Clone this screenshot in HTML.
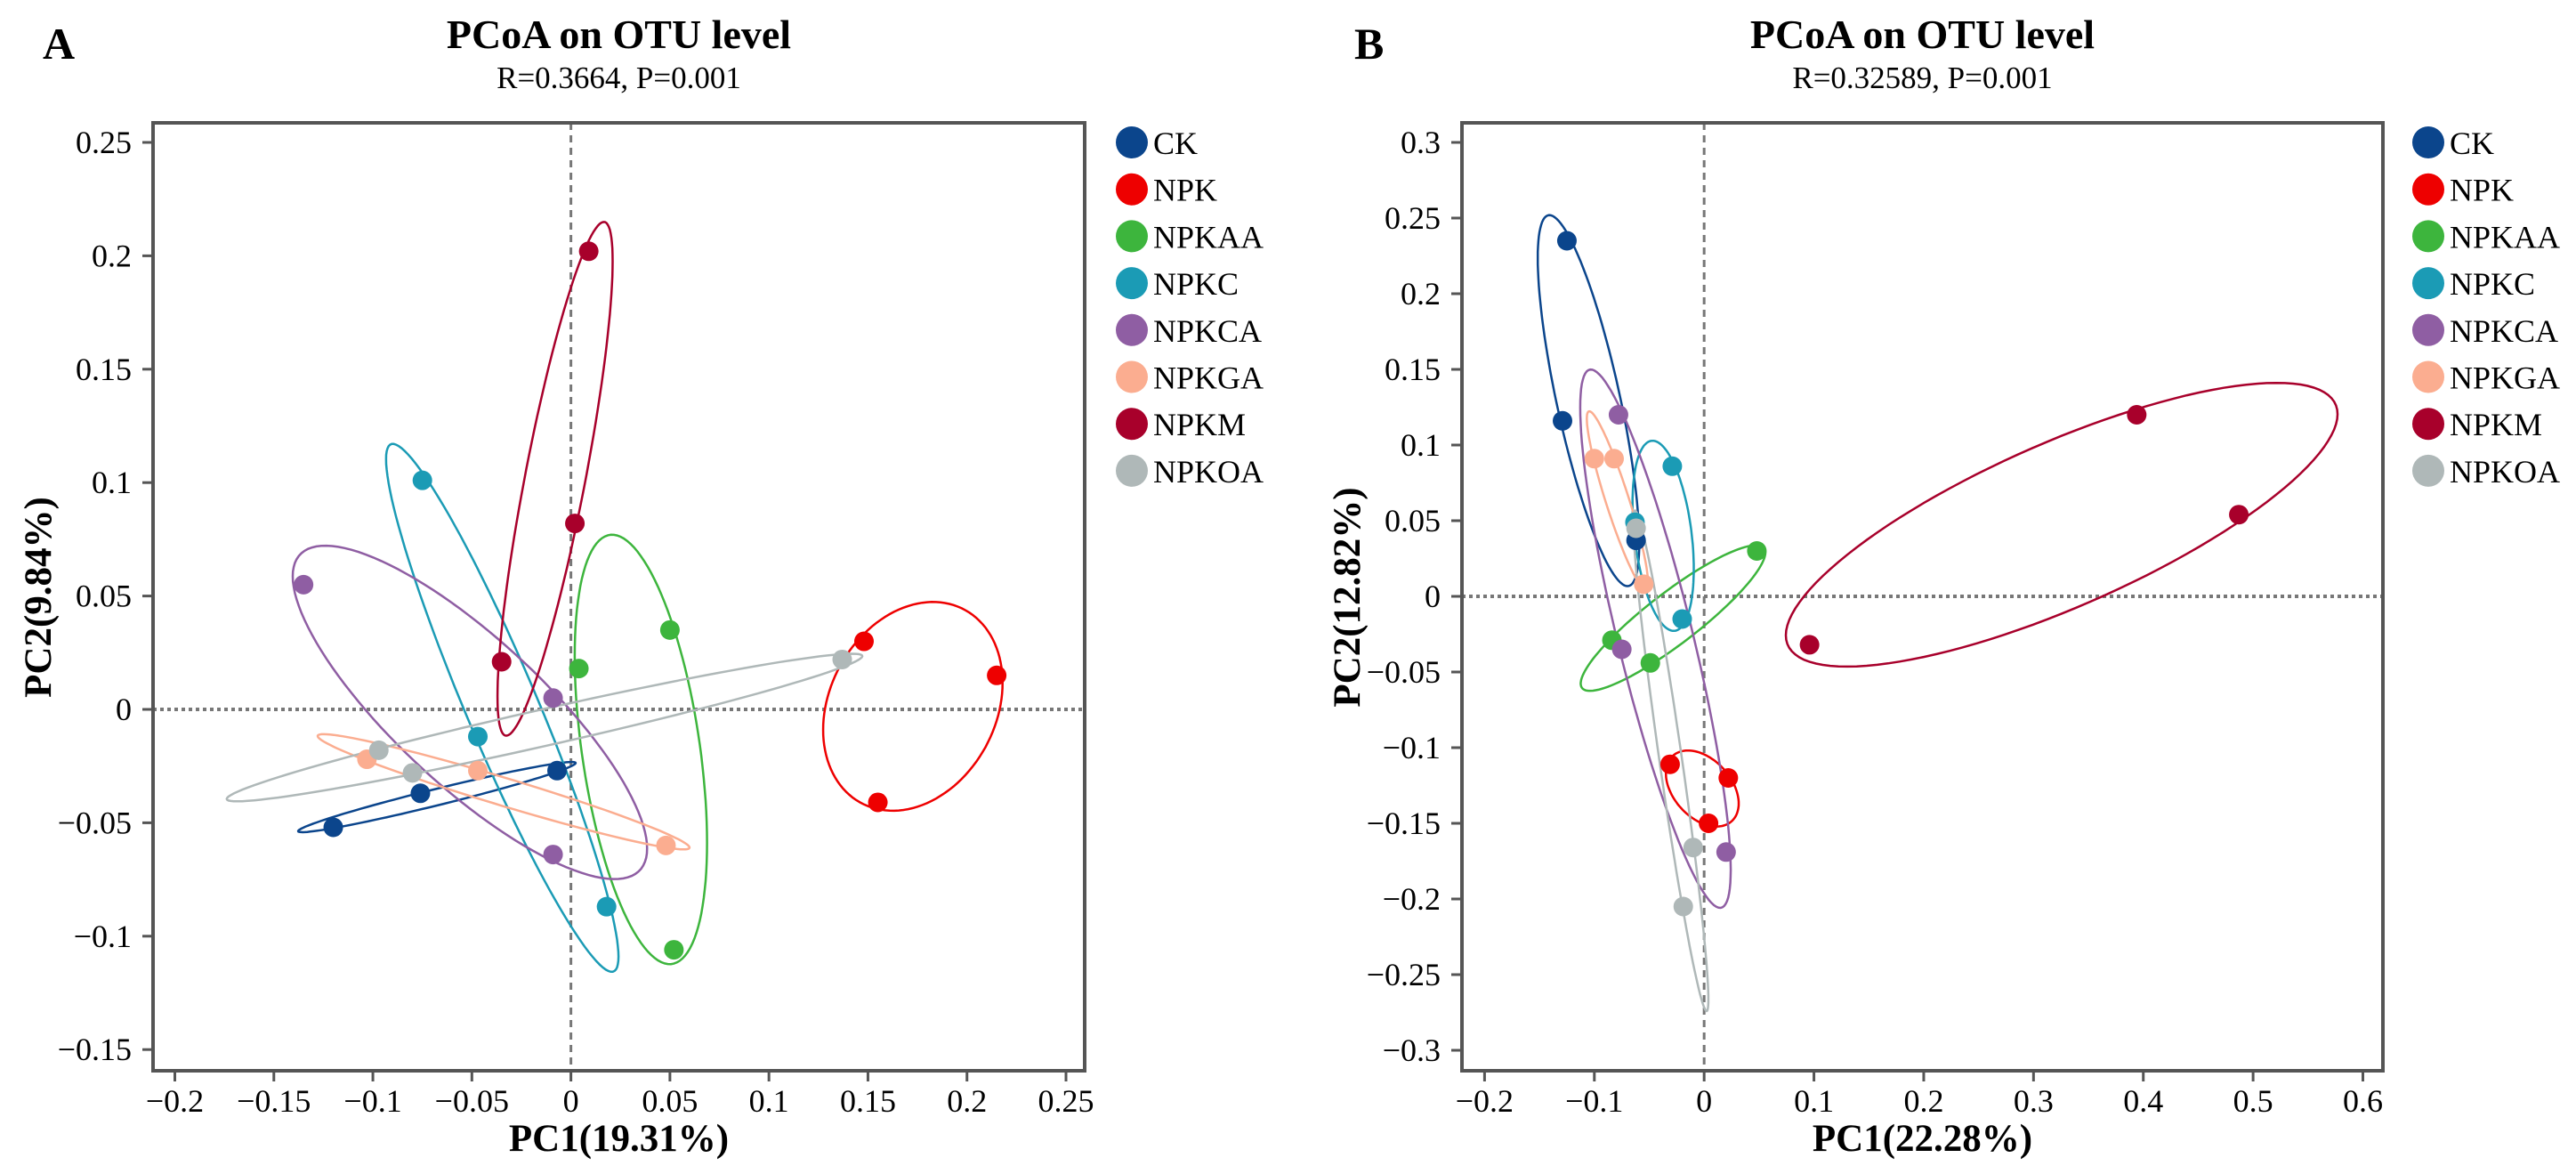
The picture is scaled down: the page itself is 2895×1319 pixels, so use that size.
<!DOCTYPE html>
<html><head><meta charset="utf-8">
<style>
html,body{margin:0;padding:0;background:#fff;}
svg{display:block;font-family:"Liberation Serif",serif;}
</style></head>
<body>
<svg id="fig" width="2895" height="1319" viewBox="0 0 2895 1319" xmlns="http://www.w3.org/2000/svg">
<rect width="2895" height="1319" fill="#fff"/>
</svg>
<script>
const groups = ["CK","NPK","NPKAA","NPKC","NPKCA","NPKGA","NPKM","NPKOA"];
const colors = ["#0b458c","#ee0000","#3db53d","#1b9bb5","#8f5ea3","#fbad90","#a8002b","#afb8b8"];
// Panel A values [x,y] per group
const aCK    = [[-0.120,-0.052],[-0.076,-0.037],[-0.007,-0.027]];
const aNPK   = [[0.148,0.030],[0.215,0.015],[0.155,-0.041]];
const aNPKAA = [[0.004,0.018],[0.050,0.035],[0.052,-0.106]];
const aNPKC  = [[-0.075,0.101],[-0.047,-0.012],[0.018,-0.087]];
const aNPKCA = [[-0.135,0.055],[-0.009,0.005],[-0.009,-0.064]];
const aNPKGA = [[-0.103,-0.022],[-0.047,-0.027],[0.048,-0.060]];
const aNPKM  = [[0.009,0.202],[0.002,0.082],[-0.035,0.021]];
const aNPKOA = [[-0.097,-0.018],[-0.080,-0.028],[0.137,0.022]];
const aXTicks = [-0.2,-0.15,-0.1,-0.05,0,0.05,0.1,0.15,0.2,0.25];
const aYTicks = [-0.15,-0.1,-0.05,0,0.05,0.1,0.15,0.2,0.25];
// Panel B values
const bCK    = [[-0.125,0.235],[-0.129,0.116],[-0.062,0.037]];
const bNPK   = [[-0.031,-0.111],[0.022,-0.120],[0.004,-0.150]];
const bNPKAA = [[0.048,0.030],[-0.084,-0.029],[-0.049,-0.044]];
const bNPKC  = [[-0.029,0.086],[-0.063,0.049],[-0.020,-0.015]];
const bNPKCA = [[-0.078,0.120],[-0.075,-0.035],[0.020,-0.169]];
const bNPKGA = [[-0.100,0.091],[-0.082,0.091],[-0.055,0.008]];
const bNPKM  = [[0.394,0.120],[0.487,0.054],[0.096,-0.032]];
const bNPKOA = [[-0.062,0.045],[-0.010,-0.166],[-0.019,-0.205]];
const bXTicks = [-0.2,-0.1,0,0.1,0.2,0.3,0.4,0.5,0.6];
const bYTicks = [-0.3,-0.25,-0.2,-0.15,-0.1,-0.05,0,0.05,0.1,0.15,0.2,0.25,0.3];

const NS="http://www.w3.org/2000/svg";
const svg=document.getElementById('fig');
function mk(tag,attrs,parent){const e=document.createElementNS(NS,tag);for(const k in attrs)e.setAttribute(k,attrs[k]);(parent||svg).appendChild(e);return e;}
function fmt(v){return (Math.round(v*1000)/1000).toString().replace('-','\u2212');}

function panel(p){
  const g=mk('g',{});
  
  
  const sx=v=>p.x0px+(v-p.x0)*(p.x1px-p.x0px)/(p.x1-p.x0);
  const sy=v=>p.y0px+(v-p.y0)*(p.y1px-p.y0px)/(p.y1-p.y0);
  const L=p.left,R=p.right,T=138,B=1203;
  let t=mk('text',{x:p.letterX,y:66,'font-size':50,'font-weight':'bold'},g);t.textContent=p.id;
  
  const cx=(L+R)/2;
  t=mk('text',{x:cx,y:54,'font-size':46,'font-weight':'bold','text-anchor':'middle'},g);t.textContent='PCoA on OTU level';
  
  t=mk('text',{x:cx,y:99,'font-size':35,'text-anchor':'middle'},g);t.textContent=p.sub;
  
  // zero lines
  let ln=mk('line',{x1:L,x2:R,y1:sy(0),y2:sy(0),stroke:'#777','stroke-width':4,'stroke-dasharray':'4 4'},g);
  
  ln=mk('line',{x1:sx(0),x2:sx(0),y1:T,y2:B,stroke:'#777','stroke-width':3,'stroke-dasharray':'8 6'},g);
  
  // ellipses
  p.data.forEach((pts,i)=>{
    const n=pts.length;const mx=pts.reduce((s,q)=>s+q[0],0)/n,my=pts.reduce((s,q)=>s+q[1],0)/n;
    let a=0,b=0,c=0;pts.forEach(q=>{const dx=q[0]-mx,dy=q[1]-my;a+=dx*dx;b+=dx*dy;c+=dy*dy;});
    a/=(n-1);b/=(n-1);c/=(n-1);
    const l11=Math.sqrt(a),l21=b/l11,l22=Math.sqrt(Math.max(c-l21*l21,1e-12));
    const k=1.23;let d='';
    for(let j=0;j<=120;j++){const th=j/120*2*Math.PI,u=Math.cos(th),v=Math.sin(th);
      const X=mx+k*(l11*u),Y=my+k*(l21*u+l22*v);d+=(j?'L':'M')+sx(X).toFixed(1)+','+sy(Y).toFixed(1);}
    const e=mk('path',{d:d+'Z',fill:'none',stroke:colors[i],'stroke-width':2.5},g);
    
    
  });
  p.data.forEach((pts,i)=>{pts.forEach(q=>{
    const c=mk('circle',{cx:sx(q[0]),cy:sy(q[1]),r:11,fill:colors[i]},g);
    
    
  });});
  // frame
  mk('rect',{x:L,y:T,width:R-L,height:B-T,fill:'none',stroke:'#555','stroke-width':4},g);
  p.yt.forEach(v=>{const y=sy(v);mk('line',{x1:L-12,x2:L,y1:y,y2:y,stroke:'#555','stroke-width':3},g);
    const tt=mk('text',{x:L-24,y:y+12,'font-size':36,'text-anchor':'end'},g);tt.textContent=fmt(v);
    });
  p.xt.forEach(v=>{const x=sx(v);mk('line',{x1:x,x2:x,y1:B,y2:B+12,stroke:'#555','stroke-width':3},g);
    const tt=mk('text',{x:x,y:1249,'font-size':36,'text-anchor':'middle'},g);tt.textContent=fmt(v);
    });
  t=mk('text',{x:cx,y:1293,'font-size':43,'font-weight':'bold','text-anchor':'middle'},g);t.textContent=p.xl;
  
  t=mk('text',{x:0,y:0,'font-size':43,'font-weight':'bold','text-anchor':'middle',transform:'translate('+(p.ylX)+',671) rotate(-90)'},g);t.textContent=p.yl;
  
  groups.forEach((gn,i)=>{const y=160+i*52.7;
    const c=mk('circle',{cx:p.legX,cy:y,r:18,fill:colors[i]},g);
    
    const tt=mk('text',{x:p.legX+24,y:y+13,'font-size':36},g);tt.textContent=gn;
    });
}
panel({id:'A',sub:'R=0.3664, P=0.001',left:172,right:1219,letterX:48,
  x0:-0.2,x1:0.25,x0px:196.5,x1px:1198,y0:0,y1:0.25,y0px:797,y1px:160,
  data:[aCK,aNPK,aNPKAA,aNPKC,aNPKCA,aNPKGA,aNPKM,aNPKOA],xt:aXTicks,yt:aYTicks,
  xl:'PC1(19.31%)',yl:'PC2(9.84%)',ylX:57,legX:1272});
panel({id:'B',sub:'R=0.32589, P=0.001',left:1643,right:2678,letterX:1522,
  x0:-0.2,x1:0.6,x0px:1668.4,x1px:2655.5,y0:0,y1:0.3,y0px:670,y1px:160,
  data:[bCK,bNPK,bNPKAA,bNPKC,bNPKCA,bNPKGA,bNPKM,bNPKOA],xt:bXTicks,yt:bYTicks,
  xl:'PC1(22.28%)',yl:'PC2(12.82%)',ylX:1528,legX:2729});
</script>
</body></html>
